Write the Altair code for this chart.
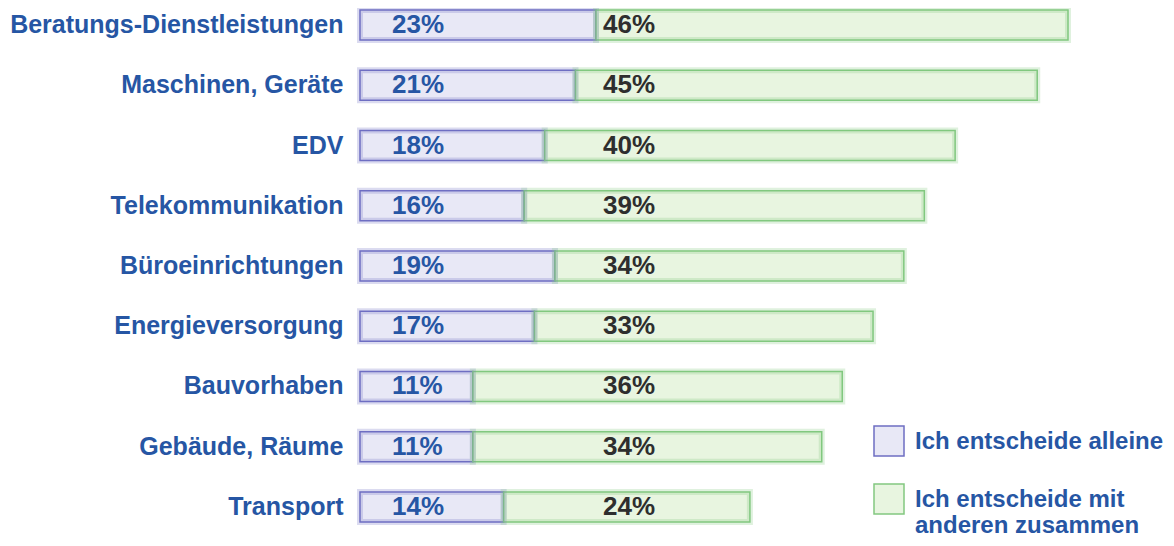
import altair as alt
import pandas as pd

categories = [
    "Beratungs-Dienstleistungen",
    "Maschinen, Geräte",
    "EDV",
    "Telekommunikation",
    "Büroeinrichtungen",
    "Energieversorgung",
    "Bauvorhaben",
    "Gebäude, Räume",
    "Transport",
]
alone = [23, 21, 18, 16, 19, 17, 11, 11, 14]
together = [46, 45, 40, 39, 34, 33, 36, 34, 24]
series_labels = ["Ich entscheide alleine", "Ich entscheide mit anderen zusammen"]

FONT = "Liberation Sans"
BLUE_TXT = "#2656a4"
DARK_TXT = "#2e2e2e"
FILLS = ["#e8e8f6", "#e8f5e0"]
STROKES = ["#6e6ec2", "#82c880"]

df = pd.DataFrame({"Bereich": categories, "alleine": alone, "zusammen": together})

base = (
    alt.Chart(df)
    .transform_fold(["alleine", "zusammen"], as_=["key", "value"])
    .transform_calculate(
        x0="datum.key === 'alleine' ? 0 : datum.alleine",
        x1="datum.key === 'alleine' ? datum.alleine : datum.alleine + datum.zusammen",
        Serie=f"datum.key === 'alleine' ? '{series_labels[0]}' : '{series_labels[1]}'",
    )
)

y_enc = alt.Y(
    "Bereich:N",
    sort=categories,
    scale=alt.Scale(paddingInner=0.5, paddingOuter=0.033),
    axis=alt.Axis(
        title=None, domain=False, ticks=False, grid=False,
        labelFont=FONT, labelFontSize=25, labelFontWeight="bold",
        labelColor=BLUE_TXT, labelPadding=17, labelLimit=400,
    ),
)
x_enc = alt.X("x0:Q", scale=alt.Scale(domain=[0, 69], nice=False, zero=True), axis=None)

legend = alt.Legend(
    title=None,
    orient="none",
    legendX=513,
    legendY=425,
    padding=0,
    symbolType="M-1,-1.53H1V0.47H-1Z",
    symbolSize=900,
    symbolStrokeWidth=1.5,
    labelFont=FONT,
    labelFontSize=24,
    labelFontWeight="bold",
    labelColor=BLUE_TXT,
    labelOffset=10,
    labelBaseline="alphabetic",
    labelLimit=400,
    rowPadding=21,
    labelExpr="datum.label == 'Ich entscheide mit anderen zusammen' ? ['Ich entscheide mit', 'anderen zusammen'] : datum.label",
)

bars = base.mark_bar(strokeWidth=1.5).encode(
    y=y_enc,
    x=x_enc,
    x2="x1:Q",
    fill=alt.Fill("Serie:N", scale=alt.Scale(domain=series_labels, range=FILLS), legend=legend),
    stroke=alt.Stroke("Serie:N", scale=alt.Scale(domain=series_labels, range=STROKES), legend=legend),
)

glow_a = base.transform_filter("datum.key === 'alleine'").mark_bar(
    fillOpacity=0, stroke="#7070c4", strokeOpacity=0.25, strokeWidth=6
).encode(y=y_enc, x=x_enc, x2="x1:Q")
glow_b = base.transform_filter("datum.key === 'zusammen'").mark_bar(
    fillOpacity=0, stroke="#80c87c", strokeOpacity=0.25, strokeWidth=6
).encode(y=y_enc, x=x_enc, x2="x1:Q")

txt_a = (
    alt.Chart(df)
    .transform_calculate(t="datum.alleine + '%'")
    .mark_text(align="left", baseline="middle", font=FONT, fontSize=26, fontWeight="bold", color=BLUE_TXT)
    .encode(y=y_enc, x=alt.value(32), text="t:N")
)
txt_b = (
    alt.Chart(df)
    .transform_calculate(t="datum.zusammen + '%'")
    .mark_text(align="left", baseline="middle", font=FONT, fontSize=26, fontWeight="bold", color=DARK_TXT)
    .encode(y=y_enc, x=alt.value(243), text="t:N")
)

chart = (
    alt.layer(bars, glow_a, glow_b, txt_a, txt_b)
    .properties(
        width=708,
        height=516,
        padding={"left": 352, "top": 0, "right": 98, "bottom": 14},
        autosize=alt.AutoSizeParams(type="none"),
    )
    .configure(style={"guide-label": {"lineHeight": 26}})
    .configure_view(stroke=None)
)

chart.save("out.html", embed_options={"renderer": "svg", "actions": False})
